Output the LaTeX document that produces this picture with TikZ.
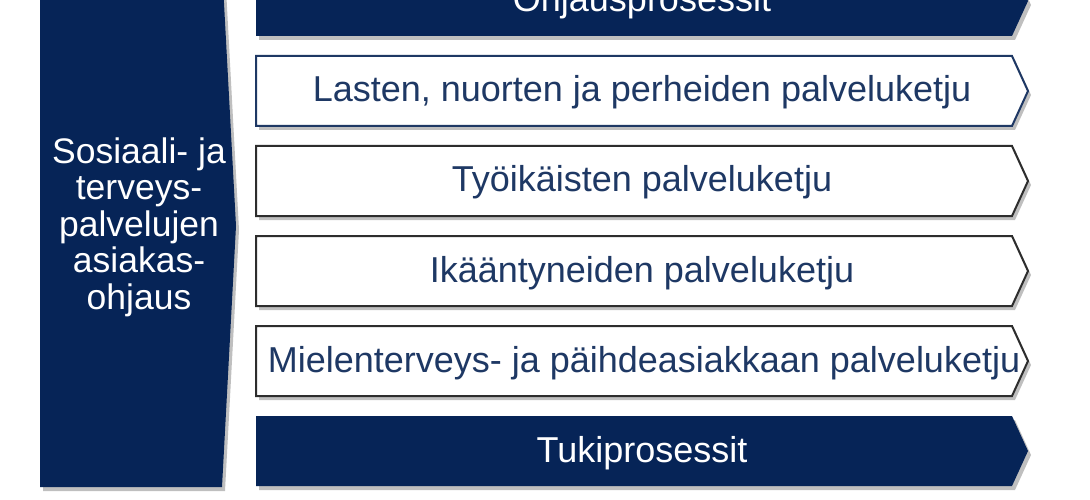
\documentclass[tikz,border=0pt]{standalone}
\usepackage{fontspec}
\setmainfont{Liberation Sans}
\usetikzlibrary{shadows}
\definecolor{navy}{RGB}{6,36,87}
\definecolor{txtblue}{RGB}{30,56,100}
\definecolor{edgegray}{RGB}{45,45,45}
\begin{document}
\begin{tikzpicture}[x=1pt,y=-1pt,
  shad/.style={drop shadow={shadow xshift=3pt,shadow yshift=-4pt,opacity=0.25,fill=black}},
  navybox/.style={fill=navy,shad},
  whitebox/.style={fill=white,draw=edgegray,line width=2pt,line join=miter,shad},
  rowtext/.style={text=txtblue,font=\fontsize{36}{42}\selectfont,anchor=base,inner sep=0pt},
  whitetext/.style={text=white,font=\fontsize{36}{42}\selectfont,anchor=base,inner sep=0pt}]
\useasboundingbox[fill=white] (0,0) rectangle (1090,500);
% left panel
\path[navybox] (40,-34) -- (222,-34) -- (236,226) -- (222,487) -- (40,487) -- cycle;
\node[text=white,align=center,inner sep=0pt,font=\fontsize{35.5}{36.5}\selectfont] (side) at (139,227)
  {Sosiaali- ja\\terveys-\\palvelujen\\asiakas-\\ohjaus};
% top bar
\path[navybox] (256,-34) -- (1012,-34) -- (1028,1) -- (1012,36) -- (256,36) -- cycle;
\node[whitetext] (ohj) at (642,12) {Ohjausprosessit};
% rows
\path[whitebox,draw=txtblue] (256,56) -- (1012,56) -- (1028,91) -- (1012,126) -- (256,126) -- cycle;
\node[rowtext] (r1) at (642,102) {Lasten, nuorten ja perheiden palveluketju};
\path[whitebox] (256,146) -- (1012,146) -- (1028,181) -- (1012,216) -- (256,216) -- cycle;
\node[rowtext] (r2) at (642,192) {Työikäisten palveluketju};
\path[whitebox] (256,236) -- (1012,236) -- (1028,271) -- (1012,306) -- (256,306) -- cycle;
\node[rowtext] (r3) at (642,282) {Ikääntyneiden palveluketju};
\path[whitebox] (256,326) -- (1012,326) -- (1028,361) -- (1012,396) -- (256,396) -- cycle;
\node[rowtext] (r4) at (644,372) {Mielenterveys- ja päihdeasiakkaan palveluketju};
% bottom bar
\path[navybox] (256,416) -- (1012,416) -- (1028,451) -- (1012,486) -- (256,486) -- cycle;
\node[whitetext] (tuki) at (642,462) {Tukiprosessit};
\end{tikzpicture}
\end{document}
